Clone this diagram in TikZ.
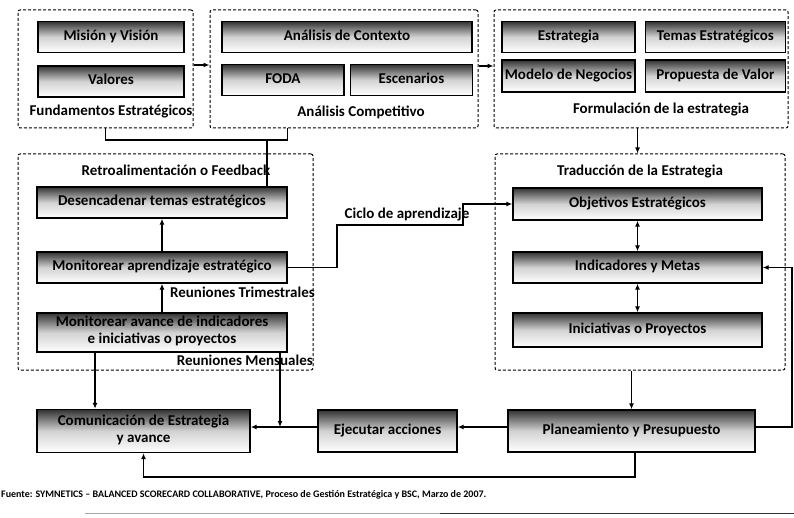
\documentclass[tikz,border=0pt]{standalone}
\usepackage{fontspec}
\setmainfont{Carlito}
\usetikzlibrary{positioning,arrows.meta}

\tikzset{
  caja/.style={draw, line width=1.4pt, top color=black!80, bottom color=white, middle color=gray!35,
    minimum height=31pt, inner sep=1pt, align=center,
    execute at begin node=\strut,
    font=\bfseries\fontsize{15}{17}\selectfont},
  grupo/.style={draw, dash pattern=on 3pt off 2pt, line width=1pt, rounded corners=2pt},
  etiqueta/.style={inner sep=0pt, font=\bfseries\fontsize{15}{17}\selectfont},
  flecha/.style={line width=1.2pt, -{Latex[length=6pt,width=5pt]}},
  flechas/.style={line width=1.2pt, {Latex[length=6pt,width=5pt]}-{Latex[length=6pt,width=5pt]}},
  linea/.style={line width=1.2pt},
}

\begin{document}
\begin{tikzpicture}[x=1pt, y=-1pt]
\useasboundingbox (0,0) rectangle (794,518);

% recuadros punteados
\node[grupo, minimum width=175pt, minimum height=118pt] (fund) at (105.5,69) {};
\node[grupo, minimum width=268pt, minimum height=118pt] (anal) at (344,69) {};
\node[grupo, minimum width=294pt, minimum height=118pt] (form) at (641,69) {};
\node[grupo, minimum width=295pt, minimum height=216pt] (feed) at (165.5,262) {};
\node[grupo, minimum width=290pt, minimum height=216pt] (trad) at (640,262) {};

% fundamentos
\node[caja, minimum width=146pt] (mision) at (111,37) {Misión y Visión};
\node[caja, minimum width=146pt] (valores) [below=12pt of mision] {Valores};
\node[etiqueta] (fundtxt) at (111,112) {Fundamentos Estratégicos};

% analisis competitivo
\node[caja, minimum width=250pt] (contexto) at (347,37) {Análisis de Contexto};
\node[caja, minimum width=122pt] (foda) at (283,80) {FODA};
\node[caja, minimum width=122pt] (escen) [right=5pt of foda] {Escenarios};
\node[etiqueta] (analtxt) at (361,112) {Análisis Competitivo};

% formulacion
\node[caja, minimum width=133pt] (estrat) at (568.5,37) {Estrategia};
\node[caja, minimum width=140pt] (temas) [right=9pt of estrat] {Temas Estratégicos};
\node[caja, minimum width=133pt, minimum height=32pt, inner sep=0pt] (modelo) at (568.5,76) {Modelo de Negocios};
\node[caja, minimum width=140pt, minimum height=32pt] (propuesta) [right=9pt of modelo] {Propuesta de Valor};
\node[etiqueta] (formtxt) at (661,110) {Formulación de la estrategia};

% retroalimentacion
\node[etiqueta] (feedtxt) at (176,170) {Retroalimentación o Feedback};
\node[caja, minimum width=250pt] (desenc) at (162,202.5) {Desencadenar temas estratégicos};
\node[caja, minimum width=250pt] (aprend) at (162,267.5) {Monitorear aprendizaje estratégico};
\node[caja, minimum width=250pt, minimum height=39pt] (avance) at (162,332.5)
  {Monitorear avance de indicadores\\ e iniciativas o proyectos};
\node[etiqueta, anchor=east] (trim) at (315,292) {Reuniones Trimestrales};
\node[etiqueta, anchor=east] (mens) at (313,360) {Reuniones Mensuales};

% traduccion
\node[etiqueta] (tradtxt) at (640,172) {Traducción de la Estrategia};
\node[caja, minimum width=249pt, minimum height=32pt] (objet) at (637.5,204) {Objetivos Estratégicos};
\node[caja, minimum width=249pt] (indic) at (637.5,267.5) {Indicadores y Metas};
\node[caja, minimum width=249pt, minimum height=34pt] (inic) at (637.5,330) {Iniciativas o Proyectos};

% fila de abajo
\node[caja, minimum width=213pt, minimum height=43pt] (comun) at (143.5,431) {Comunicación de Estrategia\\ y avance};
\node[caja, minimum width=139pt, minimum height=42pt] (ejec) at (387.5,431) {Ejecutar acciones};
\node[caja, minimum width=247pt, minimum height=42pt] (plan) at (631.5,431) {Planeamiento y Presupuesto};

\node[etiqueta] (ciclo) at (407,215) {Ciclo de aprendizaje};

% fuente
\node[anchor=west, inner sep=0pt, font=\bfseries\fontsize{10}{12}\selectfont] (fuente) at (1,495)
  {Fuente: SYMNETICS – BALANCED SCORECARD COLLABORATIVE, Proceso de Gestión Estratégica y BSC, Marzo de 2007.};
\coordinate (reglaA) at (85,513);
\coordinate (reglaB) at (440,513);
\coordinate (reglaC) at (794,513);
\draw[gray!70, line width=1pt] (reglaA) -- (reglaB);
\draw[black!80, line width=1pt] (reglaB) -- (reglaC);

% conexiones
\coordinate (retro) at (267,140);
\coordinate (cicloA) at (337,225);
\coordinate (cicloB) at (463,225);
\coordinate (junta) at (280,427);
\coordinate (lazo) at (792,427);
\coordinate (bajo) at (635,477);

\path[flecha]
  ([yshift=4pt]fund.east) edge ([yshift=4pt]fund.east -| anal.west)
  ([yshift=3pt]anal.east) edge ([yshift=3pt]anal.east -| form.west)
  (objet.north |- form.south) edge (objet.north |- trad.north)
  (avance.north) edge (aprend.south)
  (aprend.north) edge (desenc.south)
  (plan.north |- trad.south) edge (plan.north)
  ([yshift=4pt]plan.west) edge ([yshift=4pt]ejec.east)
  ([yshift=4pt]ejec.west) edge ([yshift=4pt]comun.east)
  (avance.south -| junta) edge (junta)
  ([xshift=-67pt]avance.south) edge ([xshift=-67pt]avance.south |- comun.north);
\path[flechas]
  (objet.south) edge (indic.north)
  (indic.south) edge (inic.north);

\draw[linea] (fund.south) |- (retro) -| (anal.south -| desenc.east);
\draw[linea] (retro) -- (retro |- desenc.north);
\draw[flecha] (aprend.east) -| (cicloA) -- (cicloB) |- (objet.west);
\draw[flecha] ([yshift=4pt]plan.east) -- (lazo) |- (indic.east);
\draw[flecha] (plan.south -| bajo) -- (bajo) -| (comun.south);

\end{tikzpicture}
\end{document}
